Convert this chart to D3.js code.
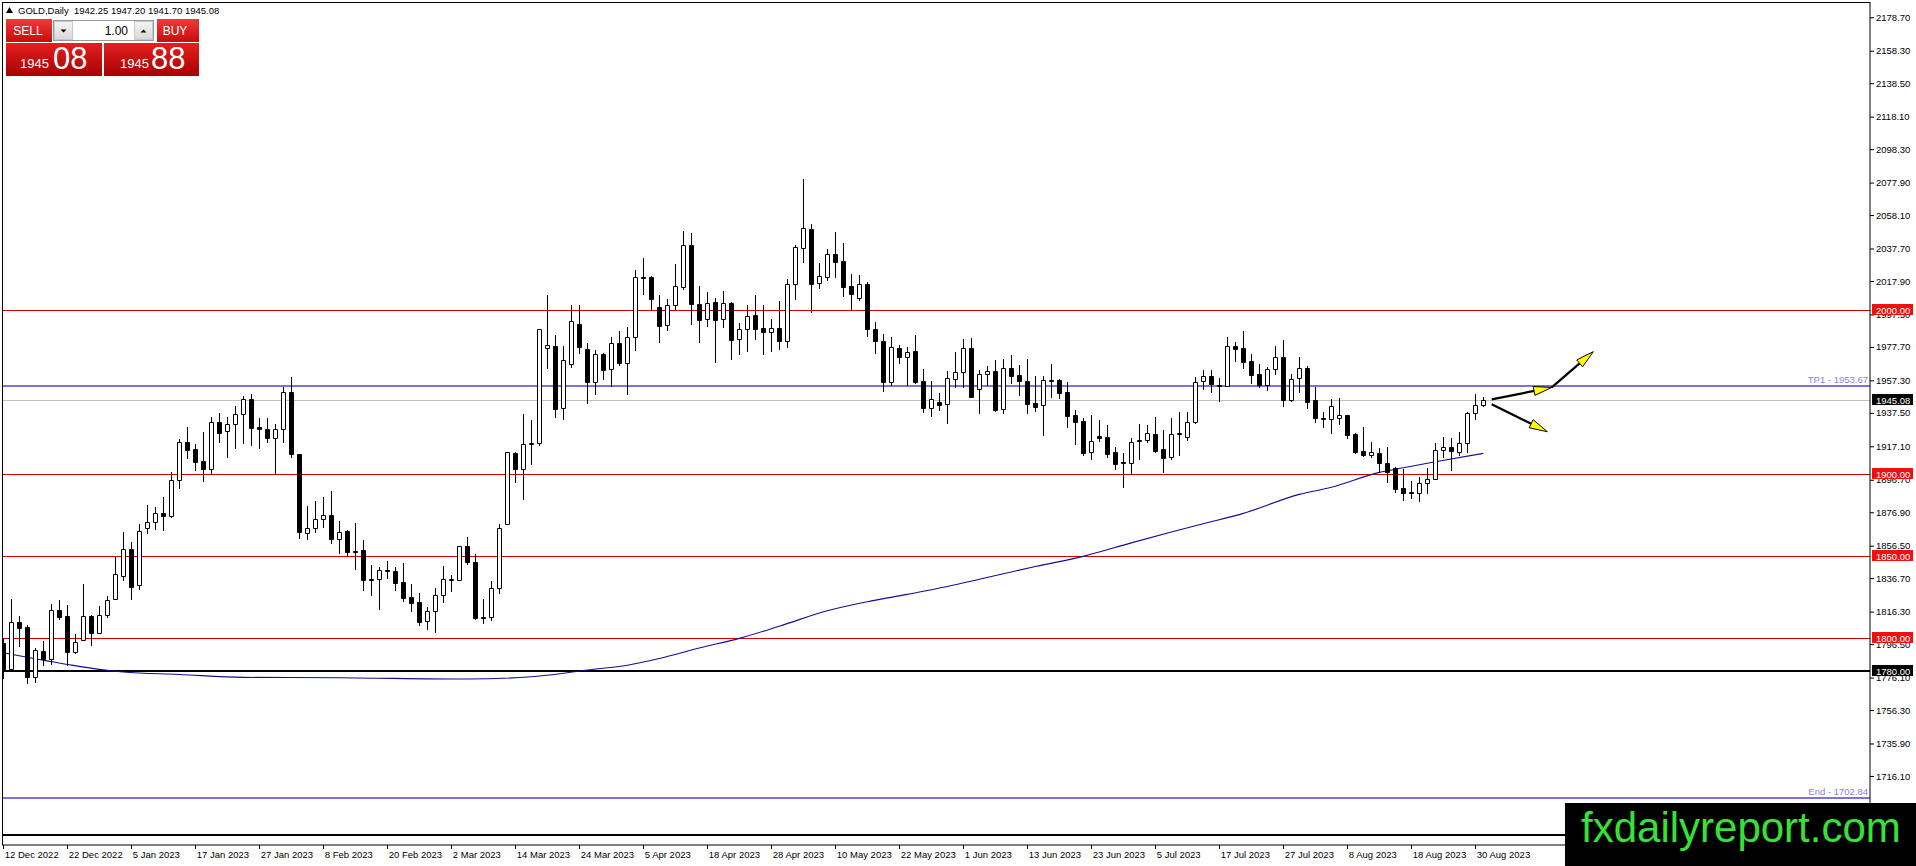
<!DOCTYPE html>
<html><head><meta charset="utf-8">
<script src="https://cdn.jsdelivr.net/npm/d3@7"></script>
<style>
html,body{margin:0;padding:0;background:#fff;overflow:hidden}
svg{display:block}
text{font-family:"Liberation Sans",Arial,sans-serif}
</style>
</head><body>
<svg id="chart" width="1916" height="866"></svg>
<script>
// ---------- DATA ----------
const symbolTitle = "GOLD,Daily";
const lastBar = {open:"1942.25", high:"1947.20", low:"1941.70", close:"1945.08"};
const sellPrice = ["1945", "08"];
const buyPrice = ["1945", "88"];
const lotSize = "1.00";

const openP = [1797.0,1781.1,1810.2,1807.1,1776.2,1792.3,1787.2,1817.1,1813.6,1791.9,
1798.8,1813.4,1803.5,1814.0,1824.2,1838.2,1854.3,1832.7,1867.1,1871.1,
1876.2,1874.8,1896.3,1919.7,1915.2,1907.9,1903.5,1931.9,1926.2,1930.5,
1936.6,1945.7,1928.7,1927.4,1922.4,1927.4,1950.0,1912.2,1864.0,1867.1,
1872.8,1875.0,1860.8,1865.4,1853.5,1853.9,1836.0,1836.0,1841.5,1841.1,
1834.3,1825.2,1822.2,1810.4,1816.5,1826.2,1835.4,1835.4,1856.1,1846.3,
1813.2,1813.2,1830.5,1869.9,1913.0,1903.5,1918.3,1919.1,1976.8,1978.3,
1940.2,1967.1,1991.7,1976.2,1956.1,1973.2,1964.0,1979.9,1968.1,1983.5,
2020.5,2020.3,2001.8,1990.9,2003.0,2014.0,2039.6,2003.7,1994.5,2004.9,
1994.5,2004.5,1982.3,1988.4,1997.2,1989.0,1987.0,1989.0,1981.5,2016.3,
2037.8,2049.4,2016.5,2020.5,2034.1,2030.1,2014.8,2007.7,2015.9,1988.4,
1981.3,1956.5,1976.8,1971.3,1975.2,1956.9,1940.7,1943.9,1942.7,1958.3,
1962.2,1976.8,1951.8,1961.0,1963.0,1939.6,1964.6,1960.4,1956.9,1943.3,
1942.1,1957.1,1957.5,1950.0,1936.0,1932.5,1913.4,1923.6,1923.0,1913.4,
1907.3,1907.1,1920.1,1920.7,1924.6,1915.2,1910.4,1924.4,1922.8,1931.7,
1956.7,1959.8,1954.3,1954.1,1978.0,1976.8,1969.1,1961.2,1954.5,1964.4,
1971.3,1945.5,1958.5,1964.8,1945.3,1934.6,1933.7,1934.1,1936.0,1924.4,
1914.2,1911.6,1912.8,1906.7,1903.7,1891.5,1889.2,1888.8,1894.5,1896.9,
1914.8,1916.7,1913.4,1919.3,1937.2,1942.25];
const highP = [1800.0,1824.0,1813.6,1808.1,1793.9,1798.4,1820.7,1823.4,1820.1,1802.4,
1833.1,1814.2,1819.5,1825.8,1849.8,1864.8,1858.5,1869.7,1881.3,1880.3,
1886.2,1901.2,1921.3,1928.7,1918.3,1925.8,1935.0,1937.6,1935.0,1941.9,
1947.8,1949.0,1934.3,1934.3,1930.5,1953.5,1959.6,1912.5,1880.7,1883.9,
1886.2,1890.0,1871.5,1866.1,1870.3,1860.0,1844.7,1843.7,1847.2,1843.7,
1845.9,1833.1,1827.4,1819.3,1830.5,1844.1,1838.6,1856.5,1862.0,1851.4,
1824.0,1835.0,1869.5,1913.8,1913.4,1936.6,1933.1,1988.4,2009.3,1985.0,
1978.3,2003.3,2003.3,1979.9,1975.8,1973.8,1983.7,1987.2,1989.8,2024.6,
2032.1,2020.9,2009.3,2006.9,2028.0,2048.6,2047.0,2014.8,2011.0,2007.3,
2011.8,2004.9,1992.5,2003.3,2009.3,2003.3,1994.7,2005.5,2018.9,2039.8,
2079.9,2052.4,2028.7,2037.4,2047.6,2040.9,2022.0,2021.5,2017.5,1992.9,
1985.4,1983.5,1979.0,1977.6,1985.0,1964.0,1956.9,1949.4,1963.0,1974.8,
1982.5,1982.9,1963.4,1966.1,1969.7,1970.3,1972.8,1966.7,1970.3,1960.0,
1960.0,1967.3,1958.1,1956.5,1939.2,1934.1,1936.2,1933.1,1930.1,1916.9,
1912.8,1922.4,1930.7,1929.9,1934.8,1927.0,1934.1,1937.8,1937.8,1959.1,
1963.6,1963.6,1958.9,1983.7,1980.5,1987.2,1973.4,1967.3,1965.7,1978.0,
1981.9,1961.2,1971.7,1966.1,1953.0,1938.2,1946.1,1946.3,1936.2,1925.4,
1929.1,1919.9,1916.3,1916.5,1904.7,1903.3,1895.9,1898.2,1903.7,1919.3,
1923.0,1922.0,1926.0,1938.2,1949.0,1947.20];
const lowP = [1776.0,1780.5,1795.5,1773.0,1773.6,1783.7,1784.3,1811.6,1783.7,1790.9,
1798.8,1795.9,1803.0,1812.8,1823.8,1835.6,1824.2,1830.3,1864.4,1866.5,
1866.1,1873.8,1891.9,1910.0,1902.6,1896.1,1900.2,1919.9,1910.8,1916.3,
1919.3,1918.1,1916.3,1919.9,1900.0,1919.9,1910.8,1861.0,1860.4,1864.6,
1868.1,1858.3,1852.2,1850.2,1842.5,1829.5,1826.4,1817.9,1836.6,1829.5,
1822.8,1816.9,1808.1,1805.9,1804.1,1822.4,1829.1,1835.4,1845.3,1812.0,
1809.1,1811.2,1827.4,1869.9,1895.1,1885.2,1906.5,1917.9,1965.0,1934.8,
1933.5,1965.2,1974.2,1943.3,1948.8,1957.9,1954.1,1966.5,1949.0,1975.8,
2009.8,2000.2,1980.9,1988.0,2000.2,2013.0,1991.9,1980.5,1990.7,1968.7,
1990.0,1970.5,1973.6,1975.4,1982.7,1973.6,1975.4,1976.6,1977.8,2007.1,
2029.7,1998.8,2013.8,2018.5,2020.5,2008.9,2000.0,2006.5,1984.6,1974.2,
1951.0,1954.5,1968.1,1954.5,1955.5,1938.2,1935.8,1939.2,1931.5,1953.0,
1953.0,1947.0,1937.6,1954.5,1938.8,1937.2,1955.9,1948.6,1937.4,1938.8,
1924.2,1947.4,1946.7,1929.1,1918.5,1911.8,1909.3,1920.5,1910.4,1903.0,
1892.5,1900.4,1909.6,1919.5,1913.6,1901.6,1909.1,1911.8,1920.9,1931.1,
1952.0,1950.4,1944.9,1954.1,1969.3,1964.6,1955.9,1953.0,1951.2,1961.4,
1941.7,1944.9,1950.4,1940.7,1932.1,1929.1,1925.0,1930.7,1922.0,1912.8,
1911.4,1910.4,1901.2,1895.5,1889.4,1884.3,1885.8,1883.9,1888.4,1896.9,
1910.8,1902.6,1911.8,1913.4,1933.7,1941.70];
const closeP = [1781.1,1810.2,1806.5,1776.2,1792.7,1787.2,1817.1,1813.2,1791.9,1797.6,
1813.4,1803.5,1814.0,1823.4,1839.0,1854.3,1831.5,1865.2,1871.1,1876.2,
1874.8,1896.3,1919.5,1914.6,1907.7,1903.5,1931.9,1925.4,1930.5,1936.6,
1945.7,1928.5,1927.4,1922.4,1927.4,1950.0,1912.2,1864.6,1867.1,1872.8,
1875.0,1860.8,1865.0,1852.8,1852.8,1835.4,1835.4,1841.5,1840.9,1833.9,
1824.4,1821.7,1810.2,1816.5,1826.2,1836.0,1836.0,1856.1,1846.3,1812.6,
1812.6,1830.5,1867.1,1913.4,1903.5,1918.3,1919.1,1988.4,1978.7,1939.6,
1969.7,1993.3,1977.8,1956.1,1973.2,1963.6,1979.9,1968.1,1983.9,2020.1,
2019.9,2007.1,1990.7,2003.0,2014.6,2039.6,2003.7,1994.3,2004.3,1994.3,
2004.3,1982.1,1988.4,1996.3,1988.8,1987.0,1989.0,1981.5,2015.9,2038.6,
2050.0,2016.3,2020.9,2034.1,2029.7,2014.4,2010.2,2015.9,1988.4,1981.1,
1956.5,1977.4,1971.3,1974.4,1956.5,1940.7,1946.1,1942.5,1958.9,1962.4,
1976.8,1947.4,1961.0,1962.8,1939.2,1964.6,1960.2,1957.1,1943.1,1941.3,
1957.3,1957.5,1949.8,1935.8,1932.1,1913.0,1920.1,1922.4,1912.6,1906.5,
1906.7,1919.5,1920.7,1925.0,1914.4,1910.2,1924.4,1925.0,1931.7,1956.5,
1959.8,1954.9,1954.1,1978.0,1976.2,1968.7,1960.8,1954.7,1964.2,1971.3,
1945.3,1958.3,1964.6,1943.9,1934.1,1933.7,1941.9,1936.0,1924.2,1913.4,
1911.6,1913.4,1906.7,1901.2,1891.1,1888.8,1888.8,1894.7,1896.9,1914.6,
1916.7,1914.4,1919.3,1937.2,1942.1,1945.08];

// moving average read at sample bars
const maBars   = [0,8,12,15,22,30,42,58,66,70,73,78,82,87,92,97,103,108,113,118,122,129,135,141,146,150,155,162,166,172,175,179,185];
const maValues = [1791.2,1784.1,1781.1,1779.5,1778.0,1776.2,1776.0,1775.2,1776.6,1778.7,1780.7,1783.6,1787.7,1794.1,1800.0,1807.4,1816.8,1822.3,1826.8,1831.6,1836.0,1843.8,1850.0,1858.2,1864.8,1869.9,1876.2,1887.8,1892.1,1901.2,1904.0,1907.7,1912.8];

// time axis labels, one every 8 bars
const dateLabels = ["12 Dec 2022","22 Dec 2022","5 Jan 2023","17 Jan 2023","27 Jan 2023","8 Feb 2023",
"20 Feb 2023","2 Mar 2023","14 Mar 2023","24 Mar 2023","5 Apr 2023","18 Apr 2023","28 Apr 2023",
"10 May 2023","22 May 2023","1 Jun 2023","13 Jun 2023","23 Jun 2023","5 Jul 2023","17 Jul 2023",
"27 Jul 2023","8 Aug 2023","18 Aug 2023","30 Aug 2023"];
const labelStep = 8;

// price axis tick labels
const priceTicks = [2178.70,2158.30,2138.50,2118.10,2098.30,2077.90,2058.10,2037.70,2017.90,1997.50,
1977.70,1957.30,1937.50,1917.10,1896.70,1876.90,1856.50,1836.70,1816.30,1796.50,1776.10,1756.30,1735.90,1716.10];

// horizontal levels
const redLevels = [2000, 1900, 1850, 1800];
const blackLevels = [1780];
const extraBlackLevels = [1680];
const targetLevels = [{name:"TP1", value:1953.67},{name:"End", value:1702.84}];
const bidLevel = 1945.08;

// drawn arrows (bar index / price)
const arrows = [
  {b0:186.05, p0:1945.7, b1:193.55, p1:1953.0},
  {b0:193.55, p0:1953.0, b1:198.75, p1:1974.8},
  {b0:186.05, p0:1942.7, b1:193.0,  p1:1926.0}
];

const logoText = "fxdailyreport.com";

// ---------- LAYOUT ----------
const W = 1916, H = 866;
const plotL = 2.5, plotT = 2.5, plotR = 1870, plotB = 845;
const svg = d3.select("#chart");

const x = d3.scaleLinear().domain([0, 185]).range([3.3, 1483.3]);
const y = d3.scaleLinear().domain([1674.0, 2187.7]).range([plotB, plotT]);

const defs = svg.append("defs");
defs.append("clipPath").attr("id","plotClip").append("rect")
  .attr("x", plotL).attr("y", plotT).attr("width", plotR-plotL).attr("height", plotB-plotT);
function grad(id, c0, c1){
  const g = defs.append("linearGradient").attr("id", id).attr("x1",0).attr("y1",0).attr("x2",0).attr("y2",1);
  g.append("stop").attr("offset","0%").attr("stop-color",c0);
  g.append("stop").attr("offset","100%").attr("stop-color",c1);
}
grad("gTab", "#f03a3a", "#c80c0c");
grad("gBox", "#e42020", "#a80000");
grad("gBtn", "#f4f4f4", "#d8d8d8");

const plot = svg.append("g").attr("clip-path","url(#plotClip)");

// horizontal level lines
const crisp = v => Math.round(v) + 0.5;
plot.selectAll("line.red").data(redLevels).join("line")
  .attr("x1", plotL).attr("x2", plotR).attr("y1", d=>crisp(y(d))).attr("y2", d=>crisp(y(d)))
  .attr("stroke", "#d40000").attr("stroke-width", 1);
plot.append("line").attr("x1", plotL).attr("x2", plotR)
  .attr("y1", crisp(y(bidLevel))).attr("y2", crisp(y(bidLevel)))
  .attr("stroke", "#c0c0c0").attr("stroke-width", 1);
plot.selectAll("line.tp").data(targetLevels).join("line")
  .attr("x1", plotL).attr("x2", plotR).attr("y1", d=>Math.round(y(d.value))).attr("y2", d=>Math.round(y(d.value)))
  .attr("stroke", "#7b74d6").attr("stroke-width", 2);
plot.selectAll("line.blk").data(blackLevels.concat(extraBlackLevels)).join("line")
  .attr("x1", plotL).attr("x2", plotR).attr("y1", d=>Math.round(y(d))).attr("y2", d=>Math.round(y(d)))
  .attr("stroke", "#000").attr("stroke-width", 2);
plot.selectAll("text.tpl").data(targetLevels).join("text")
  .attr("x", plotR-2).attr("y", d=>y(d.value)-3)
  .attr("text-anchor","end").attr("font-size","9.5px").attr("fill","#8a84dc")
  .text(d=>d.name + " - " + d.value.toFixed(2));

// moving average
const maPts = maBars.map((b,i)=>({b, v:maValues[i]}));
plot.append("path").datum(maPts)
  .attr("d", d3.line().x(d=>x(d.b)).y(d=>y(d.v)).curve(d3.curveMonotoneX))
  .attr("fill","none").attr("stroke","#10108f").attr("stroke-width",1.1);

// candles
const bars = openP.map((o,i)=>({i, o, h:highP[i], l:lowP[i], c:closeP[i]}));
const cg = plot.append("g");
cg.selectAll("line.wick").data(bars).join("line")
  .attr("x1", d=>crisp(x(d.i))).attr("x2", d=>crisp(x(d.i)))
  .attr("y1", d=>Math.round(y(d.h))).attr("y2", d=>Math.round(y(d.l))+1)
  .attr("stroke","#000").attr("stroke-width",1);
cg.selectAll("path.body").data(bars).join("path")
  .attr("d", d=>{
    const cx = crisp(x(d.i));
    const t = crisp(y(Math.max(d.o,d.c)));
    const b = crisp(y(Math.min(d.o,d.c)));
    return `M${cx-2},${t}H${cx+2}V${b}H${cx-2}Z`;
  })
  .attr("fill", d=> d.c >= d.o ? "#fff" : "#000")
  .attr("stroke","#000").attr("stroke-width",1);

// arrows
const ag = svg.append("g");
arrows.forEach(a=>{
  const X0 = x(a.b0), Y0 = y(a.p0), X1 = x(a.b1), Y1 = y(a.p1);
  const dx = X1-X0, dy = Y1-Y0, len = Math.hypot(dx,dy);
  const ux = dx/len, uy = dy/len;
  const L = 18, hw = 4.5;
  const bx = X1-ux*L, by = Y1-uy*L;
  ag.append("line").attr("x1",X0).attr("y1",Y0).attr("x2",bx).attr("y2",by)
    .attr("stroke","#000").attr("stroke-width",2.2);
  ag.append("path")
    .attr("d",`M${X1},${Y1}L${bx-uy*hw},${by+ux*hw}L${bx+uy*hw},${by-ux*hw}Z`)
    .attr("fill","#ffff00").attr("stroke","#000").attr("stroke-width",1);
});

// frame
svg.append("rect").attr("x",plotL).attr("y",plotT).attr("width",plotR-plotL).attr("height",plotB-plotT)
  .attr("fill","none").attr("stroke","#000").attr("stroke-width",1);

// price axis
const yAxis = d3.axisRight(y).tickValues(priceTicks).tickFormat(d3.format(".2f")).tickSize(4).tickSizeOuter(0);
const yg = svg.append("g").attr("transform",`translate(${plotR},0)`).call(yAxis);
yg.select(".domain").remove();
yg.selectAll("text").attr("font-size","9.5px").attr("font-family",'"Liberation Sans",Arial,sans-serif').attr("fill","#000").attr("x",6);
yg.selectAll("line").attr("stroke","#000");

// time axis
const xAxis = d3.axisBottom(x).tickValues(dateLabels.map((d,i)=>i*labelStep))
  .tickFormat((d,i)=>dateLabels[i]).tickSize(4).tickSizeOuter(0);
const xg = svg.append("g").attr("transform",`translate(0,${plotB})`).call(xAxis);
xg.select(".domain").remove();
xg.selectAll(".tick line").attr("transform","translate(-0.3,0)").attr("stroke","#000");
xg.selectAll("text").attr("font-size","9.5px").attr("font-family",'"Liberation Sans",Arial,sans-serif')
  .attr("fill","#000").attr("text-anchor","start").attr("dx","1").attr("y",6);

// right-axis level labels
const tagData = redLevels.map(v=>({v, bg:"#ee1111"}))
  .concat(blackLevels.map(v=>({v, bg:"#000"})))
  .concat([{v:bidLevel, bg:"#000"}]);
const tg = svg.append("g");
tagData.forEach(t=>{
  const cy = Math.round(y(t.v));
  tg.append("rect").attr("x",plotR+2).attr("y",cy-6).attr("width",41).attr("height",11).attr("fill",t.bg);
  tg.append("text").attr("x",plotR+6).attr("y",cy+3.5).attr("font-size","9.5px").attr("fill","#fff")
    .text(t.v.toFixed(2));
});

// header
svg.append("path").attr("d","M6,13L9.5,7L13,13Z").attr("fill","#000");
svg.append("text").attr("x",18).attr("y",14).attr("font-size","9.5px").attr("fill","#000")
  .attr("xml:space","preserve")
  .text(`${symbolTitle}  ${lastBar.open} ${lastBar.high} ${lastBar.low} ${lastBar.close}`);

// one-click trading panel
const pg = svg.append("g");
pg.append("rect").attr("x",6).attr("y",19).attr("width",46).attr("height",23).attr("fill","url(#gTab)");
pg.append("text").attr("x",28).attr("y",35).attr("text-anchor","middle").attr("font-size","12px").attr("fill","#fff").text("SELL");
pg.append("rect").attr("x",157).attr("y",19).attr("width",42).attr("height",23).attr("fill","url(#gTab)");
pg.append("text").attr("x",175).attr("y",35).attr("text-anchor","middle").attr("font-size","12px").attr("fill","#fff").text("BUY");
pg.append("rect").attr("x",53.5).attr("y",20.5).attr("width",100).attr("height",20).attr("fill","#fff").attr("stroke","#9a9a9a");
pg.append("rect").attr("x",54.5).attr("y",21.5).attr("width",18).attr("height",18).attr("fill","url(#gBtn)").attr("stroke","#c8c8c8");
pg.append("rect").attr("x",134.5).attr("y",21.5).attr("width",18).attr("height",18).attr("fill","url(#gBtn)").attr("stroke","#c8c8c8");
pg.append("path").attr("d","M60.5,29.5H66.5L63.5,32.5Z").attr("fill","#000");
pg.append("path").attr("d","M140.5,32.5H146.5L143.5,29.5Z").attr("fill","#000");
pg.append("text").attr("x",128).attr("y",35).attr("text-anchor","end").attr("font-size","12px").attr("fill","#000").text(lotSize);
pg.append("rect").attr("x",6).attr("y",43).attr("width",96).attr("height",33).attr("fill","url(#gBox)");
pg.append("rect").attr("x",104).attr("y",43).attr("width",95).attr("height",33).attr("fill","url(#gBox)");
pg.append("line").attr("x1",6).attr("x2",199).attr("y1",42.5).attr("y2",42.5).attr("stroke","#fff");
pg.append("text").attr("x",20).attr("y",68).attr("font-size","13px").attr("fill","#fff").text(sellPrice[0]);
pg.append("text").attr("x",53).attr("y",69).attr("font-size","31px").attr("fill","#fff").text(sellPrice[1]);
pg.append("text").attr("x",120).attr("y",68).attr("font-size","13px").attr("fill","#fff").text(buyPrice[0]);
pg.append("text").attr("x",151).attr("y",69).attr("font-size","31px").attr("fill","#fff").text(buyPrice[1]);

// logo
svg.append("rect").attr("x",1565).attr("y",803).attr("width",W-1565).attr("height",H-803).attr("fill","#000");
svg.append("text").attr("x",1581).attr("y",842).attr("font-size","42px").attr("fill","#36e236").text(logoText);
</script>
</body></html>
